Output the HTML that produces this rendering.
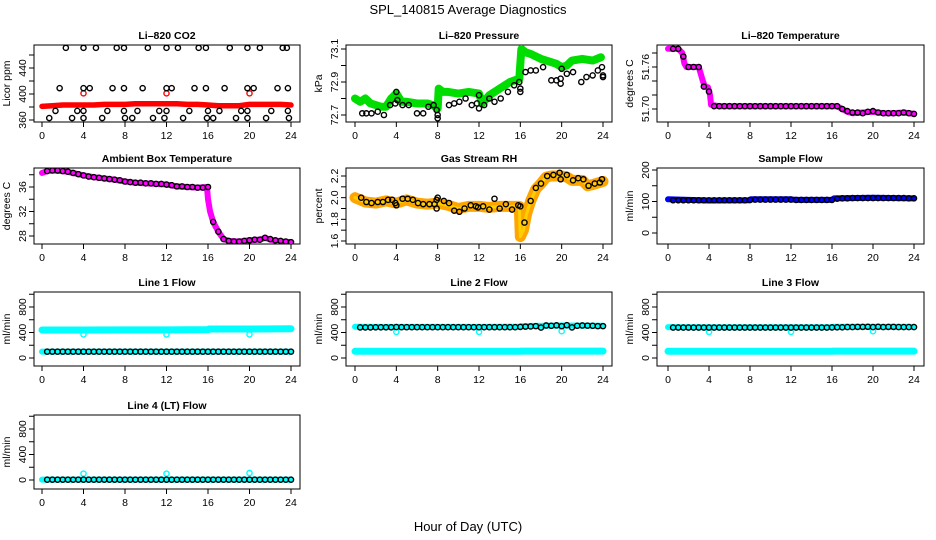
<!DOCTYPE html>
<html><head><meta charset="utf-8"><style>
body{margin:0;background:#fff}
svg{display:block;font-family:"Liberation Sans",sans-serif}
</style></head><body>
<svg id="chart" width="936" height="540" viewBox="0 0 936 540" xmlns="http://www.w3.org/2000/svg">
<rect width="936" height="540" fill="#fff"/>
<text x="468" y="14" font-size="13" text-anchor="middle">SPL_140815  Average Diagnostics</text>
<text x="468" y="531" font-size="13" text-anchor="middle">Hour of Day (UTC)</text>
</svg>
<script>
// ---------- DATA ----------
const xTicks=[0,4,8,12,16,20,24];
const hrsB=[0.5,1,1.5,2,2.5,3,3.5,4,4.5,5,5.5,6,6.5,7,7.5,8,8.5,9,9.5,10,10.5,11,11.5,12,12.5,13,13.5,14,14.5,15,15.5,16,16.5,17,17.5,18,18.5,19,19.5,20,20.5,21,21.5,22,22.5,23,23.5,24];
// CO2
const co2RedHrs=[0,1,2,3,4,5,6,7,8,9,10,11,12,13,14,15,16,17,18,19,20,21,22,23,24];
const co2RedVals=[381,382,383,383,383,383,384,384,384,385,385,385,385,385,384,384,383,382,382,382,384,384,384,384,383];
const co2RedOutHrs=[4,12,20];
const co2RedOutVals=[401,401,401];
const co2BlackHrs=[2.3,4.0,5.2,7.2,7.9,10.2,12.0,13.1,15.1,15.8,18.1,19.8,21.0,23.2,23.6, 1.7,4.0,4.6,6.8,7.9,9.7,12.0,12.5,14.7,15.8,17.6,19.8,20.4,22.7,23.7, 1.3,3.4,4.0,6.3,7.9,9.2,11.3,12.0,14.2,16.0,17.1,19.2,19.8,22.1,23.7, 0.7,2.9,4.0,5.8,8.0,8.7,10.7,11.8,13.6,15.9,16.5,18.7,19.8,21.6,23.8];
const co2BlackVals=[471,471,471,471,471,471,471,471,471,471,471,471,471,471,471, 409,409,409,409,409,409,409,409,409,409,409,409,409,409,409, 374,374,374,374,374,374,374,374,374,374,374,374,374,374,374, 363,363,363,363,363,363,363,363,363,363,363,363,363,363,363];
// Pressure
const presHrs=[0,0.5,1,1.5,2,2.5,3,3.5,4,4.5,5,6,7,7.5,8,8.1,8.5,9,10,11,12,12.3,13,14,15,15.9,16.1,16.5,17,18,19,19.5,20,20.5,21,22,23,23.8];
const presVals=[72.80,72.78,72.80,72.77,72.76,72.75,72.75,72.80,72.83,72.78,72.78,72.77,72.77,72.76,72.74,72.86,72.84,72.84,72.83,72.84,72.83,72.77,72.82,72.86,72.90,72.92,73.10,73.08,73.07,73.04,73.02,73.01,72.99,73.00,73.03,73.04,73.03,73.05];
const presBHrs=[0.7,1.1,1.6,2.2,2.8,3.4,3.9,4.0,4.1,4.6,5.2,6.0,6.6,7.1,7.6,7.9,8.0,8.0,9.1,9.6,10.1,10.7,11.3,11.8,12.0,12.0,12.5,13.0,13.5,14.1,14.8,15.4,15.9,16.0,16.0,16.5,17.0,17.5,18.2,19.0,19.5,19.9,19.9,20.0,20.5,21.1,21.9,22.4,23.0,23.5,23.9,24.0,24.0];
const presBVals=[72.71,72.71,72.71,72.72,72.70,72.76,72.77,72.84,72.79,72.76,72.76,72.71,72.71,72.75,72.76,72.73,72.70,72.68,72.76,72.77,72.78,72.80,72.76,72.77,72.74,72.82,72.76,72.80,72.78,72.80,72.84,72.88,72.90,72.86,72.84,72.96,72.97,72.97,72.99,72.91,72.91,72.92,72.89,72.98,72.95,72.96,72.90,72.93,72.94,72.97,72.99,72.94,72.93];
// Li-820 temperature
const ltHrs=[0,0.5,1,1.4,1.6,1.8,2.5,3.0,3.2,3.4,3.6,3.9,4.1,4.2,5,8,12,16,16.5,17,17.5,18,19,20,21,22,23,24];
const ltVals=[51.786,51.786,51.786,51.78,51.765,51.76,51.76,51.76,51.75,51.74,51.732,51.731,51.72,51.706,51.704,51.704,51.704,51.704,51.704,51.70,51.696,51.694,51.695,51.696,51.694,51.694,51.695,51.693];
const ltBVals=[51.786,51.786,51.775,51.76,51.76,51.76,51.732,51.725,51.704,51.704,51.704,51.704,51.704,51.704,51.704,51.704,51.704,51.704,51.704,51.704,51.704,51.704,51.704,51.704,51.704,51.704,51.704,51.704,51.704,51.704,51.704,51.704,51.704,51.700,51.697,51.695,51.695,51.694,51.696,51.697,51.695,51.694,51.694,51.694,51.694,51.695,51.694,51.693];
// Ambient box temperature
const abHrs=[0,0.5,1,2,3,4,5,6,7,8,9,10,11,12,13,14,15,15.9,16.0,16.2,16.5,17,17.5,18,19,20,21,21.5,22,23,24];
const abVals=[38.3,38.6,38.7,38.6,38.3,37.9,37.6,37.4,37.2,36.9,36.7,36.6,36.5,36.4,36.1,36.0,35.9,36.0,34.0,32.0,30.3,28.7,27.5,27.2,27.1,27.3,27.4,27.7,27.4,27.1,27.0];
const abBVals=[38.6,38.7,38.7,38.6,38.5,38.3,38.1,37.9,37.7,37.6,37.5,37.4,37.3,37.2,37.1,36.9,36.8,36.7,36.7,36.6,36.6,36.5,36.5,36.4,36.3,36.1,36.1,36.0,36.0,35.9,35.9,36.0,30.3,28.7,27.5,27.2,27.1,27.1,27.2,27.3,27.4,27.4,27.7,27.5,27.3,27.2,27.1,27.0];
// Gas stream RH
const rhHrs=[0,1,2,3,4,5,6,7,8,9,10,11,12,13,14,15,15.9,16,16.3,16.6,17,17.5,18,18.5,19,19.5,20,20.5,21,22,22.5,23,24];
const rhVals=[2.00,1.96,1.95,1.97,1.95,1.98,1.95,1.94,1.95,1.93,1.90,1.92,1.92,1.91,1.92,1.92,1.92,1.64,1.70,1.85,1.97,2.08,2.13,2.19,2.20,2.20,2.20,2.19,2.16,2.16,2.11,2.12,2.15];
const rhBHrs=[0.6,1.1,1.6,2.2,2.7,3.2,3.6,3.9,4.0,4.6,5.1,5.6,6.1,6.6,7.2,7.7,7.9,7.9,8.0,8.6,9.1,9.6,10.1,10.6,11.2,11.7,11.9,12.4,13.0,13.5,14.0,14.6,15.2,15.8,16.0,16.4,17.0,17.5,18.0,18.6,19.2,19.8,19.9,20.5,21.1,21.6,22.1,22.6,23.2,23.7,23.9];
const rhBVals=[2.00,1.96,1.95,1.96,1.96,1.98,1.98,1.95,1.93,1.99,1.99,1.98,1.95,1.94,1.94,1.94,1.98,1.90,2.00,1.97,1.95,1.88,1.87,1.90,1.93,1.92,1.91,1.92,1.89,1.99,1.90,1.94,1.89,1.93,1.92,1.77,1.97,2.09,2.13,2.20,2.21,2.23,2.17,2.21,2.16,2.18,2.17,2.11,2.13,2.14,2.17];
// Sample flow
const sfHrs=[0,4,8,8.1,12,12.5,16,16.2,20,24];
const sfVals=[107,103,104,107,107,105,105,110,112,110];
const sfBVals=[104,104,104,104,104,104,104,104,104,104,104,104,104,104,104,105,106,106,106,106,106,106,106,106,105,105,105,105,105,105,105,105,109,110,110,111,111,111,111,111,111,111,111,111,111,111,110,110];
// Line flows
const flowHrs=[0,4,8,12,16,16.1,20,24];
const l1CyanHi=[440,440,442,442,445,455,455,458];
const l1CyanLo=[100,100,100,100,100,100,100,100];
const l2CyanHi=[490,488,488,488,492,500,510,505];
const l2CyanLo=[105,105,105,105,105,108,108,108];
const l3CyanHi=[485,483,483,483,485,490,490,488];
const l3CyanLo=[105,105,105,105,105,108,108,108];
const l4CyanLo=[5,5,5,5,5,5,5,5];
const outHrs=[4,12,20];
const l1Out=[370,370,370];
const l2Out=[410,410,420];
const l3Out=[410,410,420];
const l4Out=[100,100,110];
const l1BVals=[100,100,100,100,100,100,100,100,100,100,100,100,100,100,100,100,100,100,100,100,100,100,100,100,100,100,100,100,100,100,100,100,100,100,100,100,100,100,100,100,100,100,100,100,100,100,100,100];
const l2BVals=[480,480,480,482,482,482,482,485,483,483,483,483,483,483,483,483,483,483,483,483,483,483,483,483,483,483,483,483,483,483,483,488,492,495,500,478,510,505,512,500,515,480,505,510,508,505,500,500];
const l3BVals=[478,478,478,478,478,478,478,478,478,478,478,478,478,478,478,478,478,478,478,478,478,478,478,478,478,478,478,478,478,478,478,480,482,482,485,485,488,488,490,485,490,485,488,488,485,485,485,485];
const l4BVals=[5,5,5,5,5,5,5,5,5,5,5,5,5,5,5,5,5,5,5,5,5,5,5,5,5,5,5,5,5,5,5,5,5,5,5,5,5,5,5,5,5,5,5,5,5,5,5,5];

// ---------- LAYOUT ----------
const NS='http://www.w3.org/2000/svg';
const svg=document.getElementById('chart');
const cols=[{l:34,r:300,x0:42,x24:291},{l:346,r:612,x0:355,x24:603},{l:657,r:924,x0:668,x24:914}];
const rows=[{t:45,b:122},{t:168,b:244},{t:292,b:366},{t:415,b:489}];
function mk(tag,attrs,parent){const e=document.createElementNS(NS,tag);for(const k in attrs)e.setAttribute(k,attrs[k]);(parent||svg).appendChild(e);return e;}

function panel(name,title,ylab,c,r,v0,y0,v1,y1,yt,yl,fmt){
  const C=cols[c],R=rows[r];
  const g=mk('g',{});
  
  
  const P={g,xs:h=>C.x0+h*(C.x24-C.x0)/24,ys:v=>y0+(v-v0)*(y1-y0)/(v1-v0)};
  const fr=mk('rect',{x:C.l,y:R.t,width:C.r-C.l,height:R.b-R.t,fill:'none',stroke:'#000','stroke-width':1},g);
  
  
  const t=mk('text',{x:(C.l+C.r)/2,y:R.t-6,'font-size':10.5,'font-weight':'bold','text-anchor':'middle'},g);
  t.textContent=title;
  
  
  const yl2=mk('text',{transform:`translate(${C.l-24},${(R.t+R.b)/2}) rotate(-90)`,'font-size':10.5,'text-anchor':'middle'},g);
  yl2.textContent=ylab;
  
  
  const xa=mk('g',{},g);
  
  
  mk('line',{x1:P.xs(xTicks[0]),x2:P.xs(xTicks[xTicks.length-1]),y1:R.b,y2:R.b,stroke:'#000'},xa);
  xTicks.forEach(h=>{
    mk('line',{x1:P.xs(h),x2:P.xs(h),y1:R.b,y2:R.b+5,stroke:'#000'},xa);
    const tx=mk('text',{x:P.xs(h),y:R.b+17,'font-size':10.5,'text-anchor':'middle'},xa);
    tx.textContent=h;
    
    
  });
  const ya=mk('g',{},g);
  
  
  yt.forEach(v=>mk('line',{x1:C.l-5,x2:C.l,y1:P.ys(v),y2:P.ys(v),stroke:'#000'},ya));
  yl.forEach(v=>{
    const tx=mk('text',{transform:`translate(${C.l-8},${P.ys(v)}) rotate(-90)`,'font-size':10.5,'text-anchor':'middle'},ya);
    tx.textContent=fmt?fmt(v):v;
    
    
  });
  const clip='clip-'+name;
  const cp=mk('clipPath',{id:clip},g);mk('rect',{x:C.l,y:R.t,width:C.r-C.l,height:R.b-R.t},cp);
  P.plot=mk('g',{'clip-path':`url(#${clip})`},g);
  return P;
}
function band(P,hrs,vals,color,w,name){
  const pl=mk('polyline',{points:hrs.map((h,i)=>P.xs(h)+','+P.ys(vals[i])).join(' '),fill:'none',stroke:color,'stroke-width':w,'stroke-linejoin':'round','stroke-linecap':'round'},P.plot);
  
  
}
function pts(P,hrs,vals,color,name,rad,sw){
  const g=mk('g',{},P.plot);
  
  
  hrs.forEach((h,i)=>mk('circle',{cx:P.xs(h),cy:P.ys(vals[i]),r:rad||2.6,fill:'none',stroke:color,'stroke-width':sw||1.4},g));
}

let P=panel('co2','Li\u2013820 CO2','Licor ppm',0,0,360,120,440,68,[360,380,400,420,440,460],[360,400,440]);
band(P,co2RedHrs,co2RedVals,'#ff0000',5.5,'co2-red-series');
pts(P,co2RedOutHrs,co2RedOutVals,'#ff0000','co2-red-outliers');
pts(P,co2BlackHrs,co2BlackVals,'#000','co2-black-points');
P=panel('pressure','Li\u2013820 Pressure','kPa',1,0,72.7,115,73.1,49,[72.7,72.8,72.9,73.0,73.1],[72.7,72.9,73.1],v=>v.toFixed(1));
band(P,presHrs,presVals,'#00dd00',8,'pressure-green-series');
pts(P,presBHrs,presBVals,'#000','pressure-black-points');
P=panel('li-temp','Li\u2013820 Temperature','degrees C',2,0,51.70,109,51.76,67,[51.70,51.72,51.74,51.76,51.78],[51.70,51.76],v=>v.toFixed(2));
band(P,ltHrs,ltVals,'#ff00ff',6,'li-temp-magenta-series');
pts(P,hrsB,ltBVals,'#000','li-temp-black-points');
P=panel('ambient','Ambient Box Temperature','degrees C',0,1,28,236,36,187,[28,30,32,34,36,38],[28,32,36]);
band(P,abHrs,abVals,'#ff00ff',6,'ambient-magenta-series');
pts(P,hrsB,abBVals,'#000','ambient-black-points');
P=panel('rh','Gas Stream RH','percent',1,1,1.6,241,2.2,176,[1.6,1.7,1.8,1.9,2.0,2.1,2.2],[1.6,1.8,2.0,2.2],v=>v.toFixed(1));
band(P,rhHrs,rhVals,'#ffa500',11,'rh-orange-series');
band(P,rhHrs,rhVals,'#ffd000',3,'rh-yellow-core');
pts(P,rhBHrs,rhBVals,'#000','rh-black-points');
P=panel('sample-flow','Sample Flow','ml/min',2,1,0,233,200,170,[0,50,100,150,200],[0,100,200]);
band(P,sfHrs,sfVals,'#0000ff',6,'sample-flow-blue-series');
pts(P,hrsB,sfBVals,'#000','sample-flow-black-points');
const fT=[0,200,400,600,800,1000],fL=[0,400,800];
P=panel('line1','Line 1 Flow','ml/min',0,2,0,358,800,307,fT,fL);
band(P,flowHrs,l1CyanHi,'#00ffff',7,'line1-cyan-high');
band(P,flowHrs,l1CyanLo,'#00ffff',6,'line1-cyan-low');
pts(P,outHrs,l1Out,'#00ffff','line1-cyan-outliers');
pts(P,hrsB,l1BVals,'#000','line1-black-points');
P=panel('line2','Line 2 Flow','ml/min',1,2,0,358,800,307,fT,fL);
band(P,flowHrs,l2CyanHi,'#00ffff',6,'line2-cyan-high');
band(P,flowHrs,l2CyanLo,'#00ffff',7,'line2-cyan-low');
pts(P,outHrs,l2Out,'#00ffff','line2-cyan-outliers');
pts(P,hrsB,l2BVals,'#000','line2-black-points');
P=panel('line3','Line 3 Flow','ml/min',2,2,0,358,800,307,fT,fL);
band(P,flowHrs,l3CyanHi,'#00ffff',6,'line3-cyan-high');
band(P,flowHrs,l3CyanLo,'#00ffff',7,'line3-cyan-low');
pts(P,outHrs,l3Out,'#00ffff','line3-cyan-outliers');
pts(P,hrsB,l3BVals,'#000','line3-black-points');
P=panel('line4','Line 4 (LT) Flow','ml/min',0,3,0,480,800,429,fT,fL);
band(P,flowHrs,l4CyanLo,'#00ffff',6,'line4-cyan-series');
pts(P,outHrs,l4Out,'#00ffff','line4-cyan-outliers');
pts(P,hrsB,l4BVals,'#000','line4-black-points');
</script>
</body></html>
